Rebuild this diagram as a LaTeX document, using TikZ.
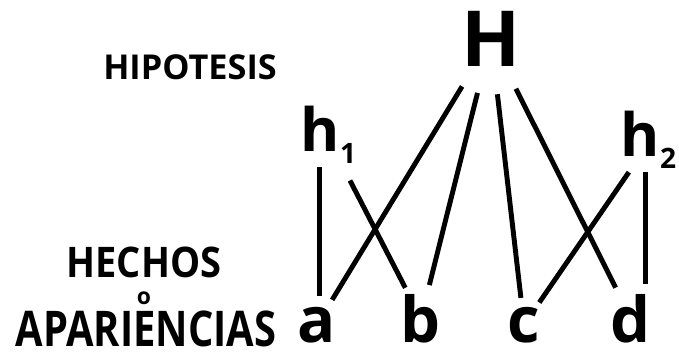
\documentclass[tikz,border=0pt]{standalone}
\usepackage{fontspec}
\setmainfont{Open Sans}
\usetikzlibrary{positioning}

\tikzset{
  fact/.style={circle, inner sep=1pt, anchor=base,
    font=\fontsize{36}{36}\selectfont\bfseries},
  hyp/.style={rectangle, inner sep=2pt, anchor=base west,
    font=\fontsize{34}{34}\selectfont\bfseries},
  tag/.style={font=\bfseries},
  link/.style={line width=2.8pt}
}

\begin{document}
\begin{tikzpicture}
\useasboundingbox (0,0) rectangle (13.58,7.04);
% ============= labels on the left =============
\node[tag, font=\fontsize{19.5}{20}\selectfont\bfseries] (hipotesis) at (3.8,5.70) {HIPOTESIS};
\node[tag, font=\fontsize{24}{24}\selectfont\bfseries, xscale=0.9] (hechos) at (2.88,1.80) {HECHOS};
\node[tag, font=\fontsize{13}{13}\selectfont\bfseries] (o) at (2.88,1.08) {o};
\node[tag, font=\fontsize{28}{28}\selectfont\bfseries, xscale=0.81, anchor=base, inner sep=0pt] (apariencias) at (2.92,0.12) {APARIENCIAS};

% ============= hypotheses =============
\node[circle, inner sep=6pt, font=\fontsize{44}{44}\selectfont\bfseries] (H) at (9.82,6.26) {H};
\node[hyp] (h1) at (5.94,4.02) {h\raisebox{-7pt}{\fontsize{16}{16}\selectfont 1}};
\node[hyp] (h2) at (12.34,3.92) {h\raisebox{-7pt}{\fontsize{16}{16}\selectfont 2}};

% ============= facts =============
\node[fact] (a) at (6.34,0.20) {a};
\node[fact] (b) at (8.42,0.20) {b};
\node[fact] (c) at (10.48,0.20) {c};
\node[fact] (d) at (12.62,0.20) {d};

% H explains every fact
\draw[link] (H) -- (a);
\draw[link] (H) -- (b);
\draw[link] (H) -- (c);
\draw[link] (H) -- (d);

% h1 and h2 explain two facts each
\draw[link] (h1.-106) -- (h1.-106 |- a.north);
\draw[link, shorten <=0.3cm] (h1.-66) -- (b);
\draw[link] (h2.-121) -- (c);
\draw[link] (h2.-96) -- (h2.-96 |- d.north);
\end{tikzpicture}
\end{document}
